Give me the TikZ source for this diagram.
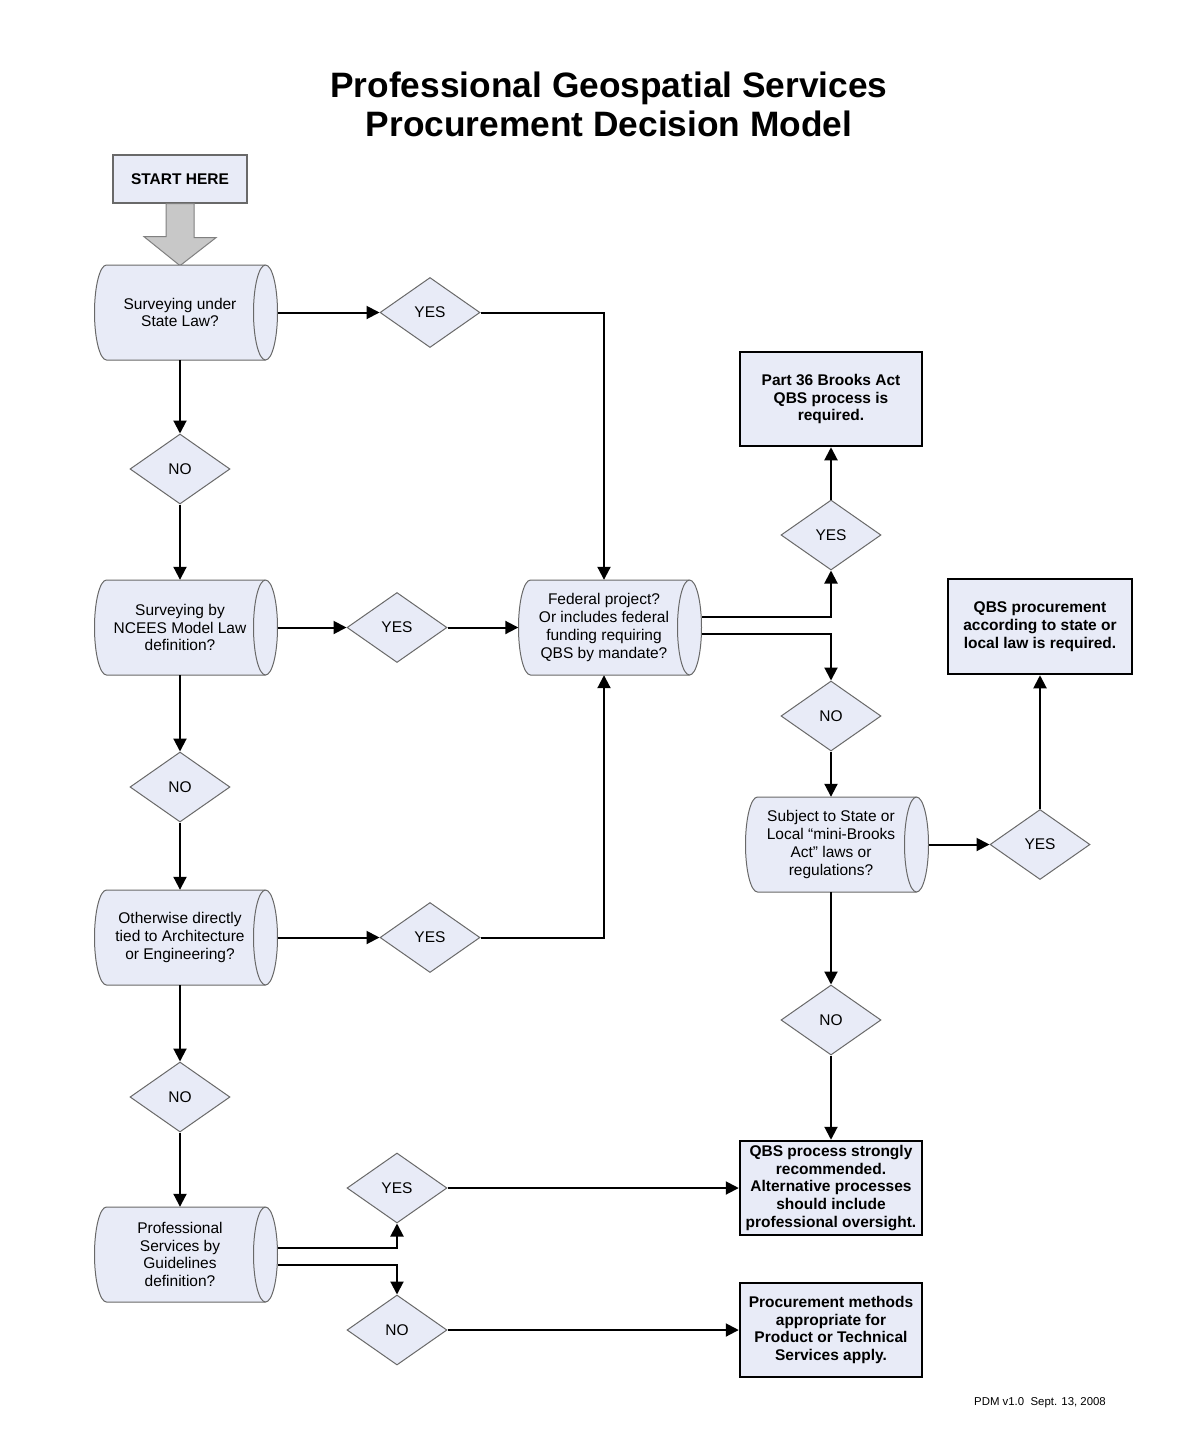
\documentclass[tikz,border=0pt]{standalone}
\usepackage{fontspec}
\setmainfont{Liberation Sans}
\usetikzlibrary{shapes.geometric,arrows.meta,calc}
\definecolor{fillc}{RGB}{232,235,247}
\definecolor{gborder}{RGB}{105,105,105}
\definecolor{arrowfill}{RGB}{200,200,200}
\newcommand\cylnode[4]{%
 \path[fill=fillc,draw=gborder,line width=1pt] ($(#2,#3)+(-73.5,47.5)$) -- ($(#2,#3)+(85.5,47.5)$)
   arc[start angle=90,end angle=-90,x radius=12,y radius=47.5] -- ($(#2,#3)+(-73.5,-47.5)$)
   arc[start angle=270,end angle=90,x radius=12,y radius=47.5] -- cycle;
 \draw[gborder,line width=1pt] ($(#2,#3)+(85.5,47.5)$) arc[start angle=90,end angle=270,x radius=12,y radius=47.5];
 \node[cyl] (#1) at (#2,#3) {#4};
}
\begin{document}
\begin{tikzpicture}[x=1pt,y=1pt,
  txt/.style={font=\fontsize{15.5}{17.7}\selectfont, align=center},
  cyl/.style={txt, minimum width=171pt, minimum height=95pt, inner sep=0pt},
  dia/.style={draw=gborder, fill=fillc, line width=1pt, diamond, minimum width=100pt, minimum height=70pt, inner sep=0pt, aspect=1.43, txt},
  endbox/.style={draw=black, fill=fillc, line width=2.5pt, minimum width=182pt, minimum height=94pt, inner sep=0pt, align=center, font=\fontsize{15.5}{17.7}\selectfont\bfseries},
  startbox/.style={draw=gborder, fill=fillc, line width=1.3pt, minimum width=134pt, minimum height=48pt, inner sep=0pt, font=\fontsize{15.5}{17.7}\selectfont\bfseries},
  conn/.style={line width=2pt, -{Triangle[length=13pt,width=13pt]}},
]
\fill[white] (0,0) rectangle (1202,-1441);
\useasboundingbox (0,0) rectangle (1202,-1441);

\node[font=\fontsize{35.3}{39}\selectfont\bfseries, align=center] (title) at (609,-104) {Professional Geospatial Services\\Procurement Decision Model};

\node[startbox] (start) at (180,-179) {START HERE};
\path[fill=arrowfill, draw=gray, line width=1pt] ([xshift=-14]start.south) -- ([xshift=14]start.south) -- ++(0,-34) -- ++(22,0) -- ([yshift=-62]start.south) -- ++(-36,29) -- ++(22,0) -- cycle;

\cylnode{c1}{180}{-312.5}{Surveying under\\State Law?}
\cylnode{c2}{180}{-627.5}{Surveying by\\NCEES Model Law\\definition?}
\cylnode{c3}{180}{-937.5}{Otherwise directly\\tied to Architecture\\or Engineering?}
\cylnode{c4}{180}{-1254.5}{Professional\\Services by\\Guidelines\\definition?}
\cylnode{fed}{604}{-627.5}{Federal project?\\Or includes federal\\funding requiring\\QBS by mandate?}
\cylnode{sub}{831}{-844.5}{Subject to State or\\Local “mini-Brooks\\Act” laws or\\regulations?}

\node[dia] (y1) at (430,-312.5) {YES};
\node[dia] (n1) at (180,-469) {NO};
\node[dia] (y2) at (397,-627.5) {YES};
\node[dia] (n2) at (180,-787) {NO};
\node[dia] (y3) at (430,-937.5) {YES};
\node[dia] (n3) at (180,-1097) {NO};
\node[dia] (y4) at (397,-1188) {YES};
\node[dia] (n4) at (397,-1330) {NO};
\node[dia] (y5) at (831,-535) {YES};
\node[dia] (n5) at (831,-716) {NO};
\node[dia] (y6) at (1040,-844.5) {YES};
\node[dia] (n6) at (831,-1020) {NO};

\node[endbox] (p36) at (831,-399) {Part 36 Brooks Act\\QBS process is\\required.};
\node[endbox, minimum width=184pt, minimum height=95pt] (qproc) at (1040,-626.5) {QBS procurement\\according to state or\\local law is required.};
\node[endbox] (qrec) at (831,-1188) {QBS process strongly\\recommended.\\Alternative processes\\should include\\professional oversight.};
\node[endbox] (pm) at (831,-1330) {Procurement methods\\appropriate for\\Product or Technical\\Services apply.};

\node[font=\fontsize{11.4}{13}\selectfont] (foot) at (1040,-1403) {PDM v1.0\ \ Sept. 13, 2008};

\draw[conn] ([xshift=12]c1.east) -- (y1.west);
\draw[conn] (y1.east) -| (fed.north);
\draw[conn] (c1.south) -- (n1.north);
\draw[conn] (n1.south) -- (c2.north);
\draw[conn] ([xshift=12]c2.east) -- (y2.west);
\draw[conn] (y2.east) -- (fed.west);
\draw[conn] (c2.south) -- (n2.north);
\draw[conn] (n2.south) -- (c3.north);
\draw[conn] ([xshift=12]c3.east) -- (y3.west);
\draw[conn] (y3.east) -| (fed.south);
\draw[conn] (c3.south) -- (n3.north);
\draw[conn] (n3.south) -- (c4.north);
\draw[conn] ([xshift=12,yshift=6.5]c4.east) -| (y4.south);
\draw[conn] ([xshift=12,yshift=-10.5]c4.east) -| (n4.north);
\draw[conn] (y4.east) -- (qrec.west);
\draw[conn] (n4.east) -- (pm.west);
\draw[conn] ([xshift=12,yshift=10.5]fed.east) -| (y5.south);
\draw[conn] (y5.north) -- (p36.south);
\draw[conn] ([xshift=12,yshift=-6.5]fed.east) -| (n5.north);
\draw[conn] (n5.south) -- (sub.north);
\draw[conn] ([xshift=12]sub.east) -- (y6.west);
\draw[conn] (y6.north) -- (qproc.south);
\draw[conn] (sub.south) -- (n6.north);
\draw[conn] (n6.south) -- (qrec.north);
\end{tikzpicture}
\end{document}
